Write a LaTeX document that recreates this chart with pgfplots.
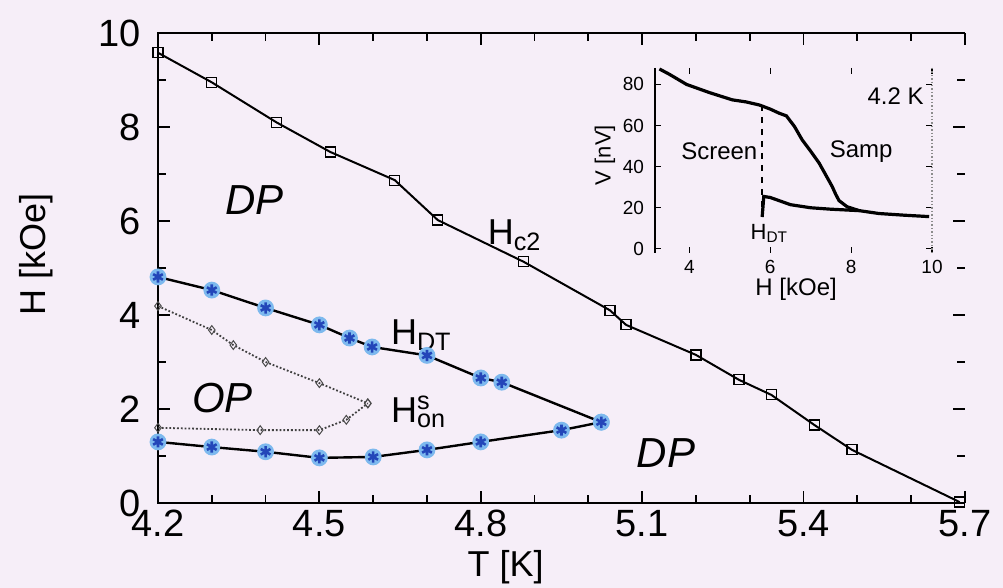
\documentclass[border=0pt]{standalone}
\usepackage{fontspec}
\setmainfont{Liberation Sans}
\usepackage{pgfplots}
\pgfplotsset{compat=1.18}
\definecolor{bg}{RGB}{246,238,248}
\definecolor{dtdark}{RGB}{35,70,185}
\definecolor{dtlight}{RGB}{125,185,238}

% H_c2(T): upper critical field
\pgfplotstableread{
T     H
4.20  9.58
4.30  8.95
4.42  8.10
4.52  7.47
4.64  6.87
4.72  6.02
4.88  5.13
5.04  4.10
5.07  3.79
5.20  3.15
5.28  2.62
5.34  2.30
5.42  1.66
5.49  1.13
5.69  0.02
}\hctwo

% H_DT(T): upper branch
\pgfplotstableread{
T     H
4.200 4.81
4.300 4.53
4.400 4.15
4.500 3.79
4.556 3.51
4.598 3.32
4.700 3.14
4.800 2.66
4.839 2.57
5.024 1.72
}\hdtup

% lower branch
\pgfplotstableread{
T     H
4.20  1.30
4.30  1.19
4.40  1.09
4.50  0.96
4.60  0.98
4.70  1.13
4.80  1.30
4.95  1.55
5.024 1.72
}\hdtlow

% H_on^s(T): upper and lower onset lines
\pgfplotstableread{
T     H
4.20  4.19
4.30  3.68
4.34  3.36
4.40  3.00
4.50  2.55
4.59  2.12
}\honup
\pgfplotstableread{
T     H
4.20  1.60
4.39  1.55
4.50  1.55
4.55  1.77
4.59  2.12
}\honlow

\begin{document}
\begin{tikzpicture}
\fill[bg] (-79pt,-42.5pt) rectangle (422.5pt,251.5pt);
\begin{axis}[
  at={(0pt,0pt)}, anchor=south west,
  scale only axis, width=403.5pt, height=235pt,
  xmin=4.2, xmax=5.7, ymin=0, ymax=10,
  xtick={4.2,4.5,4.8,5.1,5.4,5.7}, ytick={0,2,4,6,8,10},
  minor x tick num=2, minor y tick num=1,
  tick align=inside,
  major tick length=6pt, minor tick length=4pt,
  every tick/.style={black, line width=0.9pt},
  axis line style={draw=none},
  /pgf/number format/assume math mode=true,
  xticklabel={\pgfmathprintnumber[fixed,precision=1,fixed zerofill]{\tick}},
  xticklabel style={font=\fontsize{19}{19}\selectfont},
  yticklabel style={font=\fontsize{19}{19}\selectfont, xshift=-5pt},
  clip=false,
]
\draw[line width=1.2pt] (rel axis cs:1,1) -- (rel axis cs:0,1) -- (rel axis cs:0,0) -- (rel axis cs:1,0);

\addplot[black, line width=1pt, mark=square, mark size=2.5pt,
  mark options={solid, line width=0.6pt, fill=bg}] table[x=T,y=H] {\hctwo};

\addplot[black!75, densely dotted, line width=0.9pt, mark=diamond, mark size=2.2pt,
  mark options={solid, line width=0.5pt, black!70}] table[x=T,y=H] {\honup};
\addplot[black!75, densely dotted, line width=0.9pt, mark=diamond, mark size=2.2pt,
  mark options={solid, line width=0.5pt, black!70}] table[x=T,y=H] {\honlow};

\addplot[black, line width=1.2pt, mark=*, mark size=3.6pt,
  mark options={draw=dtlight, fill=dtlight}] table[x=T,y=H] {\hdtup};
\addplot[only marks, mark=asterisk, mark size=2.8pt,
  mark options={dtdark, line width=1.3pt}] table[x=T,y=H] {\hdtup};
\addplot[black, line width=1.2pt, mark=*, mark size=3.6pt,
  mark options={draw=dtlight, fill=dtlight}] table[x=T,y=H] {\hdtlow};
\addplot[only marks, mark=asterisk, mark size=2.8pt,
  mark options={dtdark, line width=1.3pt}] table[x=T,y=H] {\hdtlow};

\node[font=\fontsize{21}{21}\selectfont\itshape] at (axis cs:4.38,6.45) {DP};
\node[font=\fontsize{21}{21}\selectfont\itshape] at (axis cs:4.32,2.23) {OP};
\node[font=\fontsize{21}{21}\selectfont\itshape] at (axis cs:5.144,1.06) {DP};
\node[anchor=west, font=\fontsize{18}{18}\selectfont] at (axis cs:4.80,5.70) {H\textsubscript{c2}};
\node[anchor=west, font=\fontsize{18}{18}\selectfont] at (axis cs:4.62,3.57) {H\textsubscript{DT}};
\node[anchor=west, font=\fontsize{18}{18}\selectfont] at (axis cs:4.62,1.94) {H\rlap{\textsuperscript{s}}\textsubscript{on}};

\node[rotate=90, font=\fontsize{18}{18}\selectfont] at ([xshift=-61pt]axis cs:4.2,5.28) {H [kOe]};
\node[font=\fontsize{18}{18}\selectfont] at ([yshift=-32pt]axis cs:4.846,0) {T [K]};
\end{axis}

% inset: field sweep at 4.2 K
\begin{axis}[
  at={(248.5pt,125pt)}, anchor=south west,
  scale only axis, width=138.5pt, height=92.5pt,
  xmin=3.15, xmax=10, ymin=-2, ymax=88,
  xtick={4,6,8,10}, ytick={0,20,40,60,80},
  tick align=inside, major tick length=3pt,
  every tick/.style={black, line width=0.6pt},
  axis line style={draw=none},
  /pgf/number format/assume math mode=true,
  ticklabel style={font=\fontsize{9.5}{9.5}\selectfont},
  yticklabel style={xshift=-2pt},
  clip=false,
]
\draw[line width=1.2pt] (rel axis cs:0,1) -- (rel axis cs:0,0);
\draw[black!45, densely dotted, line width=0.7pt] (rel axis cs:1,1) -- (rel axis cs:1,0);

\addplot[black, line width=1.6pt] coordinates {
 (3.26,87.5) (3.50,85) (3.93,80) (4.50,76) (5.06,72.5) (5.40,71.5) (5.73,70)
 (6.00,68) (6.22,66) (6.40,64.7) (6.60,59.5) (6.79,53) (7.00,47.5) (7.21,41.7)
 (7.40,35) (7.53,30.4) (7.62,26.5) (7.70,23.5) (7.90,20.5) (8.20,18.6)
 (8.69,17.2) (9.30,16.4) (9.93,15.7)};
\addplot[black, line width=1.6pt] coordinates {
 (5.80,15.5) (5.84,25.5) (6.00,25.0) (6.50,21.5) (7.00,20.0) (7.50,19.3) (8.20,18.6)};
\addplot[black, dashed, line width=0.8pt] coordinates {(5.80,70) (5.80,16)};

\node[font=\fontsize{12}{12}\selectfont] at (axis cs:9.1,74.5) {4.2 K};
\node[font=\fontsize{12}{12}\selectfont] at (axis cs:4.74,47.5) {Screen};
\node[font=\fontsize{12}{12}\selectfont] at (axis cs:8.25,47.5) {Samp};
\node[font=\fontsize{11}{11}\selectfont] at (axis cs:5.98,7.4) {H\textsubscript{DT}};
\node[font=\fontsize{12}{12}\selectfont] at ([yshift=-18pt]axis cs:6.64,-2) {H [kOe]};
\node[rotate=90, font=\fontsize{11}{11}\selectfont] at ([xshift=-25pt]axis cs:3.15,45.6) {V [nV]};
\end{axis}
\pgfresetboundingbox
\useasboundingbox (-79pt,-42.5pt) rectangle (422.5pt,251.5pt);
\end{tikzpicture}
\end{document}
